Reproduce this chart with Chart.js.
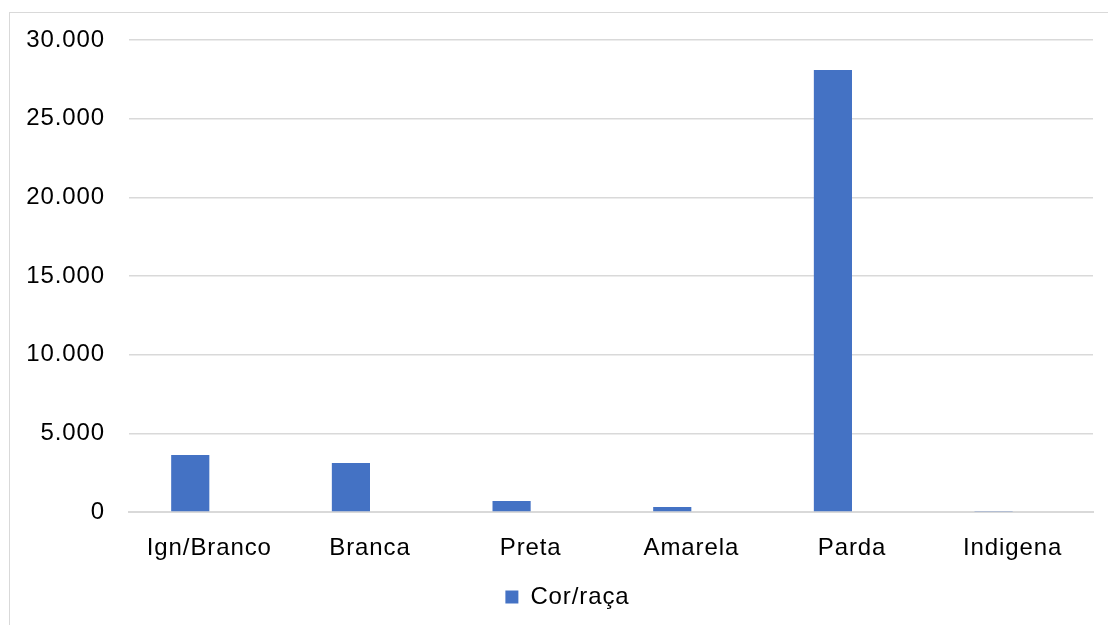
<!DOCTYPE html>
<html>
<head>
<meta charset="utf-8">
<script src="https://cdn.jsdelivr.net/npm/chart.js@4/dist/chart.umd.min.js"></script>
<style>
  html, body { margin: 0; padding: 0; background: #fff; }
  #wrap { position: relative; width: 1108px; height: 625px; overflow: hidden; }
  #frame { position: absolute; left: 9px; top: 12px; width: 1200px; height: 700px;
           border-left: 1px solid #d9d9d9; border-top: 1px solid #d9d9d9; }
  #chart1 { position: absolute; left: 0; top: 0; }
</style>
</head>
<body>
<div id="wrap">
  <div id="frame"></div>
  <canvas id="chart1" width="1108" height="625"></canvas>
</div>
<script>
// Data
const categories = ['Ign/Branco', 'Branca', 'Preta', 'Amarela', 'Parda', 'Indigena']
const cor_raca = [3620, 3110, 700, 320, 28100, 60]
const empty_series = [0, 0, 0, 0, 0, 0]  // excel leaves room for a 2nd series

const blue = '#4472c4'
const grid_color = '#d9d9d9'
const font_family = '"Liberation Sans", Arial, sans-serif'

const fmt = v => String(v).replace(/\B(?=(\d{3})+(?!\d))/g, '.')

// excel text is a bit wider than canvas text
const spacing = {
    id: 'spacing',
    beforeUpdate: chart => { chart.ctx.letterSpacing = '0.9px' },
    beforeDraw: chart => { chart.ctx.letterSpacing = '0.9px' }
}

// legend sits under the plot area centre, not the canvas centre
const legend_shift = {
    id: 'legend_shift',
    afterLayout: chart => {
        chart.legend.left += 21
        chart.legend.right += 21
    }
}

const config = {
    type: 'bar',
    data: {
        labels: categories,
        datasets: [{
            label: 'Cor/raça',
            data: cor_raca,
            backgroundColor: blue,
            categoryPercentage: 0.475,
            barPercentage: 1
        }, {
            label: '',
            data: empty_series,
            backgroundColor: blue,
            categoryPercentage: 0.475,
            barPercentage: 1
        }]
    },
    plugins: [spacing, legend_shift],
    options: {
        responsive: false,
        animation: false,
        layout: { padding: { top: 40, right: 15, left: 0, bottom: 6 } },
        plugins: {
            legend: {
                position: 'bottom',
                labels: {
                    filter: item => item.text !== '',
                    boxWidth: 13,
                    boxHeight: 13,
                    padding: 10,
                    color: '#000',
                    font: { family: font_family, size: 24 }
                }
            },
            tooltip: { enabled: false }
        },
        scales: {
            x: {
                grid: { display: false, drawTicks: false },
                border: { display: true, color: grid_color, width: 2 },
                ticks: {
                    color: '#000',
                    padding: 22,
                    maxRotation: 0,
                    font: { family: font_family, size: 24 }
                },
                afterFit: s => { s.height = 63 }
            },
            y: {
                min: 0,
                max: 30000,
                grid: { color: grid_color, lineWidth: 1.5, drawTicks: false },
                border: { display: false },
                ticks: {
                    stepSize: 5000,
                    color: '#000',
                    padding: 24,
                    font: { family: font_family, size: 24 },
                    callback: v => fmt(v)
                },
                afterFit: s => { s.width = 129 }
            }
        }
    }
}

new Chart(document.getElementById('chart1'), config)
</script>
</body>
</html>
